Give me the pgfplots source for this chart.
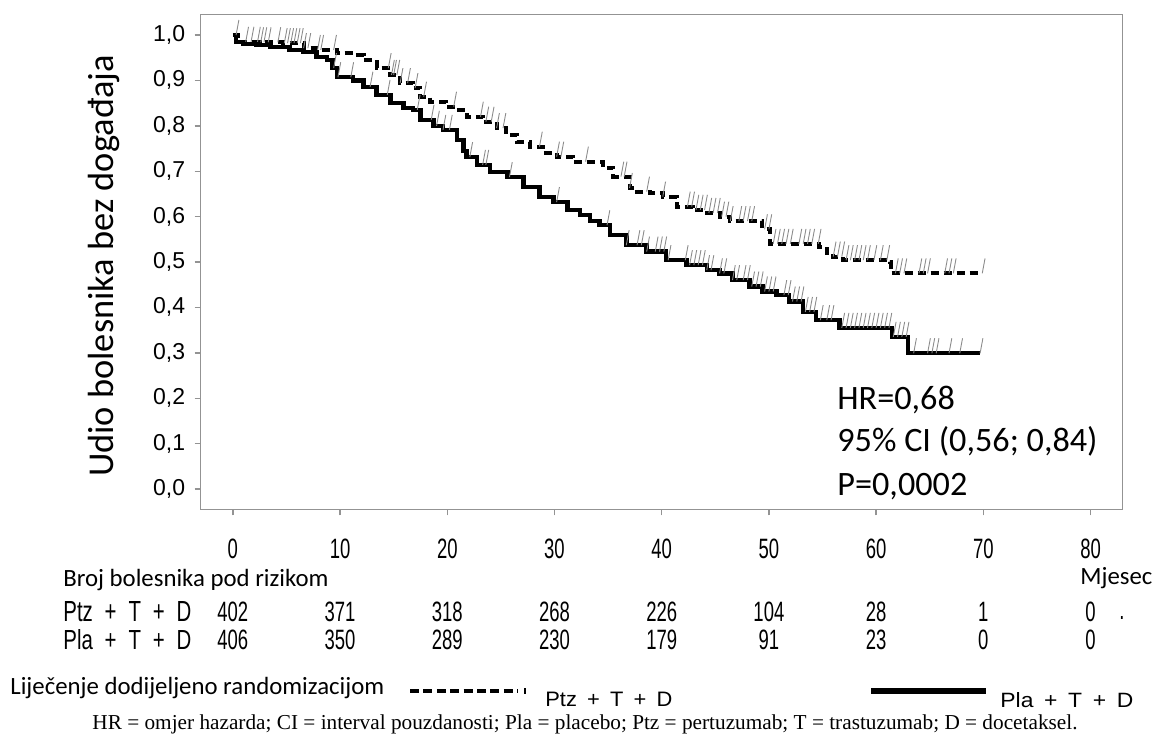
\documentclass[border=0pt]{standalone}
\usepackage{pgfplots}
\pgfplotsset{compat=1.18}
\usepackage{fontspec}
\usepackage{graphicx}
\setmainfont{Liberation Sans}
\newfontfamily\narrow[FakeStretch=0.66]{Liberation Sans}
\newfontfamily\semi[FakeStretch=0.8]{Liberation Sans}
\newfontfamily\calfont{Carlito}
\newfontfamily\seriffont{Liberation Serif}

\pgfdeclareplotmark{cens}{%
  \pgfpathmoveto{\pgfpointorigin}%
  \pgfpathlineto{\pgfpoint{1.4pt}{7.5pt}}%
  \pgfusepathqstroke}

\tikzset{risk/.style={font=\narrow\fontsize{14}{14}\selectfont, inner sep=0pt, anchor=center}}

\begin{document}
\begin{tikzpicture}[x=0.5pt,y=-0.5pt]
\path (0,0) rectangle (1153,734);
\begin{axis}[
  at={(100.35pt,-254.65pt)}, anchor=south west,
  scale only axis, width=461pt, height=247.5pt,
  xmin=-3, xmax=83, ymin=-0.0447, ymax=1.0456,
  axis line style={draw=gray!85, line width=0.7pt},
  tick style={draw=gray!85, line width=0.7pt},
  tick align=outside, major tick length=3pt,
  xtick pos=bottom, ytick pos=left,
  xtick={0,10,20,30,40,50,60,70,80},
  ytick={0,0.1,0.2,0.3,0.4,0.5,0.6,0.7,0.8,0.9,1},
  xticklabels={0,10,20,30,40,50,60,70,80},
  yticklabels={{0,0},{0,1},{0,2},{0,3},{0,4},{0,5},{0,6},{0,7},{0,8},{0,9},{1,0}},
  xticklabel style={font=\narrow\fontsize{14}{14}\selectfont, anchor=center, inner sep=0pt, yshift=-16.6pt},
  yticklabel style={font=\fontsize{11.5}{11.5}\selectfont, anchor=east, inner sep=0pt, xshift=-4.6pt},
  clip=false,
]
% censoring marks, Ptz + T + D
\addplot[only marks, mark=cens, mark options={draw=gray!90, line width=0.45pt}] coordinates {
(0.3,1.0) (1.2,0.985) (1.7,0.985) (2.3,0.985) (2.6,0.984) (2.9,0.984) (3.3,0.984) (4.2,0.984)
(4.8,0.982) (5.1,0.982) (5.4,0.982) (5.7,0.982) (6.0,0.982) (6.3,0.982) (6.6,0.971) (7.0,0.971)
(7.9,0.967) (8.2,0.967) (9.4,0.967) (14.5,0.927) (14.8,0.912) (15.0,0.912) (15.3,0.912) (15.6,0.894)
(16.3,0.894) (17.0,0.883) (17.8,0.864) (20.6,0.842) (23.1,0.820) (23.6,0.809) (24.1,0.809) (24.6,0.795)
(25.2,0.795) (28.6,0.754) (30.2,0.732) (30.6,0.732) (32.9,0.721) (36.2,0.688) (36.5,0.688) (37.0,0.663)
(38.6,0.655) (40.1,0.644) (42.4,0.622) (42.8,0.622) (43.2,0.615) (43.6,0.615) (44.0,0.615) (44.4,0.608)
(44.8,0.608) (45.2,0.608) (45.6,0.600) (46.0,0.600) (46.4,0.590) (47.2,0.590) (47.6,0.590) (48.0,0.590)
(48.4,0.590) (49.6,0.572) (50.0,0.572) (50.4,0.540) (50.8,0.540) (51.2,0.540) (51.6,0.540) (52.0,0.540)
(52.8,0.540) (53.2,0.540) (53.6,0.540) (54.0,0.540) (54.6,0.540) (56.0,0.512) (56.4,0.512) (56.8,0.512)
(57.2,0.504) (57.6,0.504) (58.0,0.504) (58.4,0.504) (58.8,0.504) (59.2,0.504) (59.8,0.504) (60.4,0.504)
(61.0,0.504) (61.8,0.475) (62.2,0.475) (62.6,0.475) (64.0,0.475) (64.4,0.475) (64.8,0.475) (66.4,0.475)
(66.8,0.475) (67.2,0.475) (69.9,0.475)
};
% censoring marks, Pla + T + D
\addplot[only marks, mark=cens, mark options={draw=gray!90, line width=0.45pt}] coordinates {
(9.4,0.927) (9.8,0.907) (11.0,0.907) (12.8,0.886) (14.4,0.868) (17.2,0.835) (18.5,0.813) (19.0,0.800)
(19.6,0.791) (20.2,0.791) (22.1,0.731) (23.3,0.714) (23.6,0.714) (25.8,0.687) (30.2,0.632) (34.9,0.581)
(36.7,0.537) (37.7,0.537) (38.1,0.537) (38.6,0.523) (39.4,0.523) (39.8,0.523) (40.2,0.523) (40.6,0.504)
(42.2,0.504) (42.6,0.493) (43.0,0.493) (43.4,0.493) (43.8,0.493) (44.2,0.482) (44.6,0.482) (45.4,0.475)
(45.8,0.475) (46.6,0.460) (47.0,0.460) (47.6,0.460) (48.0,0.460) (48.4,0.446) (48.8,0.446) (49.2,0.446)
(49.6,0.435) (50.0,0.435) (50.4,0.435) (51.4,0.427) (51.8,0.427) (52.2,0.413) (52.6,0.413) (53.0,0.413)
(53.4,0.390) (53.8,0.390) (54.2,0.390) (54.8,0.372) (55.4,0.372) (55.8,0.372) (56.8,0.355) (57.2,0.355)
(57.6,0.355) (58.0,0.355) (58.4,0.355) (58.8,0.355) (59.2,0.355) (59.6,0.355) (60.0,0.355) (60.4,0.355)
(60.8,0.355) (61.2,0.355) (61.6,0.335) (62.0,0.335) (62.4,0.335) (62.8,0.335) (63.5,0.299) (64.8,0.299)
(65.2,0.299) (65.6,0.299) (66.8,0.299) (67.8,0.299) (69.7,0.299)
};
% Pla + T + D (solid)
\addplot[const plot, black, line width=2.2pt] coordinates {
(0,1.0) (0.3,0.985) (1,0.980) (2.2,0.978) (3.5,0.973) (5.3,0.967) (6.6,0.963) (7.8,0.952)
(8.8,0.945) (9.3,0.927) (9.7,0.907) (11.2,0.900) (12.2,0.886) (13.4,0.868) (14.7,0.850) (15.9,0.839)
(16.8,0.835) (17.5,0.813) (18.7,0.800) (19.6,0.791) (20.9,0.769) (21.5,0.745) (21.8,0.731) (22.8,0.714)
(24.0,0.698) (25.6,0.687) (27.1,0.665) (28.6,0.643) (29.9,0.632) (31.2,0.615) (32.4,0.604) (33.3,0.590)
(34.2,0.581) (35.2,0.559) (36.7,0.537) (38.6,0.523) (40.4,0.504) (42.3,0.493) (44.2,0.482) (45.4,0.475)
(46.6,0.460) (48.2,0.446) (49.4,0.435) (50.7,0.427) (51.9,0.413) (53.2,0.390) (54.4,0.372) (56.6,0.355)
(61.5,0.335) (63.0,0.299) (69.7,0.299)
};
% Ptz + T + D (dashed)
\addplot[const plot, black, line width=2pt, dash pattern=on 4pt off 2.5pt] coordinates {
(0,1.0) (0.5,0.985) (2.5,0.984) (4.7,0.982) (6.6,0.971) (7.8,0.967) (9.7,0.960) (11.2,0.956)
(12.2,0.945) (13.4,0.927) (14.7,0.912) (15.6,0.894) (16.8,0.883) (17.5,0.864) (18.4,0.853) (19.9,0.842)
(20.9,0.835) (21.8,0.820) (23.3,0.809) (24.6,0.795) (25.5,0.780) (26.5,0.765) (27.7,0.754) (28.9,0.740)
(30.2,0.732) (31.7,0.721) (34.5,0.707) (35.5,0.688) (37.0,0.663) (37.7,0.655) (38.9,0.652) (40.1,0.644)
(41.4,0.622) (42.9,0.615) (44.2,0.608) (45.4,0.600) (46.4,0.590) (49.4,0.572) (50.1,0.540) (54.7,0.534)
(55.4,0.520) (56.0,0.512) (56.9,0.504) (61.3,0.500) (61.4,0.475) (69.9,0.475)
};
% numbers at risk
\node[risk] at (axis cs:0,-0.2709) {402};
\node[risk] at (axis cs:10,-0.2709) {371};
\node[risk] at (axis cs:20,-0.2709) {318};
\node[risk] at (axis cs:30,-0.2709) {268};
\node[risk] at (axis cs:40,-0.2709) {226};
\node[risk] at (axis cs:50,-0.2709) {104};
\node[risk] at (axis cs:60,-0.2709) {28};
\node[risk] at (axis cs:70,-0.2709) {1};
\node[risk] at (axis cs:80,-0.2709) {0};
\node[risk] at (axis cs:0,-0.3315) {406};
\node[risk] at (axis cs:10,-0.3315) {350};
\node[risk] at (axis cs:20,-0.3315) {289};
\node[risk] at (axis cs:30,-0.3315) {230};
\node[risk] at (axis cs:40,-0.3315) {179};
\node[risk] at (axis cs:50,-0.3315) {91};
\node[risk] at (axis cs:60,-0.3315) {23};
\node[risk] at (axis cs:70,-0.3315) {0};
\node[risk] at (axis cs:80,-0.3315) {0};
\end{axis}
% y label
\node[rotate=90, inner sep=0pt, font=\calfont\fontsize{18.2}{19}\selectfont] at (104,266) {Udio bolesnika bez događaja};
% HR box text
\node[anchor=base west, inner sep=0pt, font=\calfont\fontsize{17.1}{18}\selectfont] at (837,410) {HR=0,68};
\node[anchor=base west, inner sep=0pt, font=\calfont\fontsize{17.1}{18}\selectfont] at (837,452) {95\% CI (0,56; 0,84)};
\node[anchor=base west, inner sep=0pt, font=\calfont\fontsize{17.1}{18}\selectfont] at (837,495) {P=0,0002};
% risk table headings
\node[anchor=base west, inner sep=0pt, font=\calfont\fontsize{12.4}{14}\selectfont] at (63,587) {Broj bolesnika pod rizikom};
\node[anchor=base west, inner sep=0pt, font=\calfont\fontsize{12.4}{14}\selectfont] at (1080,585) {Mjesec};
\node[anchor=base west, inner sep=0pt] at (63,622) {\resizebox{64pt}{10pt}{\narrow Ptz\hspace{0.2em} + \hspace{0.2em}T\hspace{0.2em} + \hspace{0.2em}D}};
\node[anchor=base west, inner sep=0pt] at (63,649) {\resizebox{64pt}{10pt}{\narrow Pla\hspace{0.2em} + \hspace{0.2em}T\hspace{0.2em} + \hspace{0.2em}D}};
\node[anchor=base, inner sep=0pt, font=\narrow\fontsize{14}{14}\selectfont] at (1122,619) {.};
% legend
\node[anchor=base west, inner sep=0pt, font=\calfont\fontsize{12.4}{14}\selectfont] at (10,695) {Liječenje dodijeljeno randomizacijom};
\draw[black, line width=2pt, dash pattern=on 4.5pt off 2.2pt] (410,691) -- (518,691);
\draw[black, line width=0.8pt] (525,688) -- (525,694);
\node[anchor=base west, inner sep=0pt] at (545,706) {\resizebox{63.5pt}{7.2pt}{\semi Ptz\hspace{0.15em} + \hspace{0.15em}T\hspace{0.15em} + \hspace{0.15em}D}};
\draw[black, line width=2.8pt] (871,691) -- (986,691);
\node[anchor=base west, inner sep=0pt] at (1000,707) {\resizebox{66.5pt}{7.5pt}{\semi Pla\hspace{0.15em} + \hspace{0.15em}T\hspace{0.15em} + \hspace{0.15em}D}};
% footnote
\node[anchor=base west, inner sep=0pt] at (92,730) {\resizebox{492.5pt}{!}{\seriffont HR = omjer hazarda; CI = interval pouzdanosti; Pla = placebo; Ptz = pertuzumab; T = trastuzumab; D = docetaksel.}};
\end{tikzpicture}
\end{document}
